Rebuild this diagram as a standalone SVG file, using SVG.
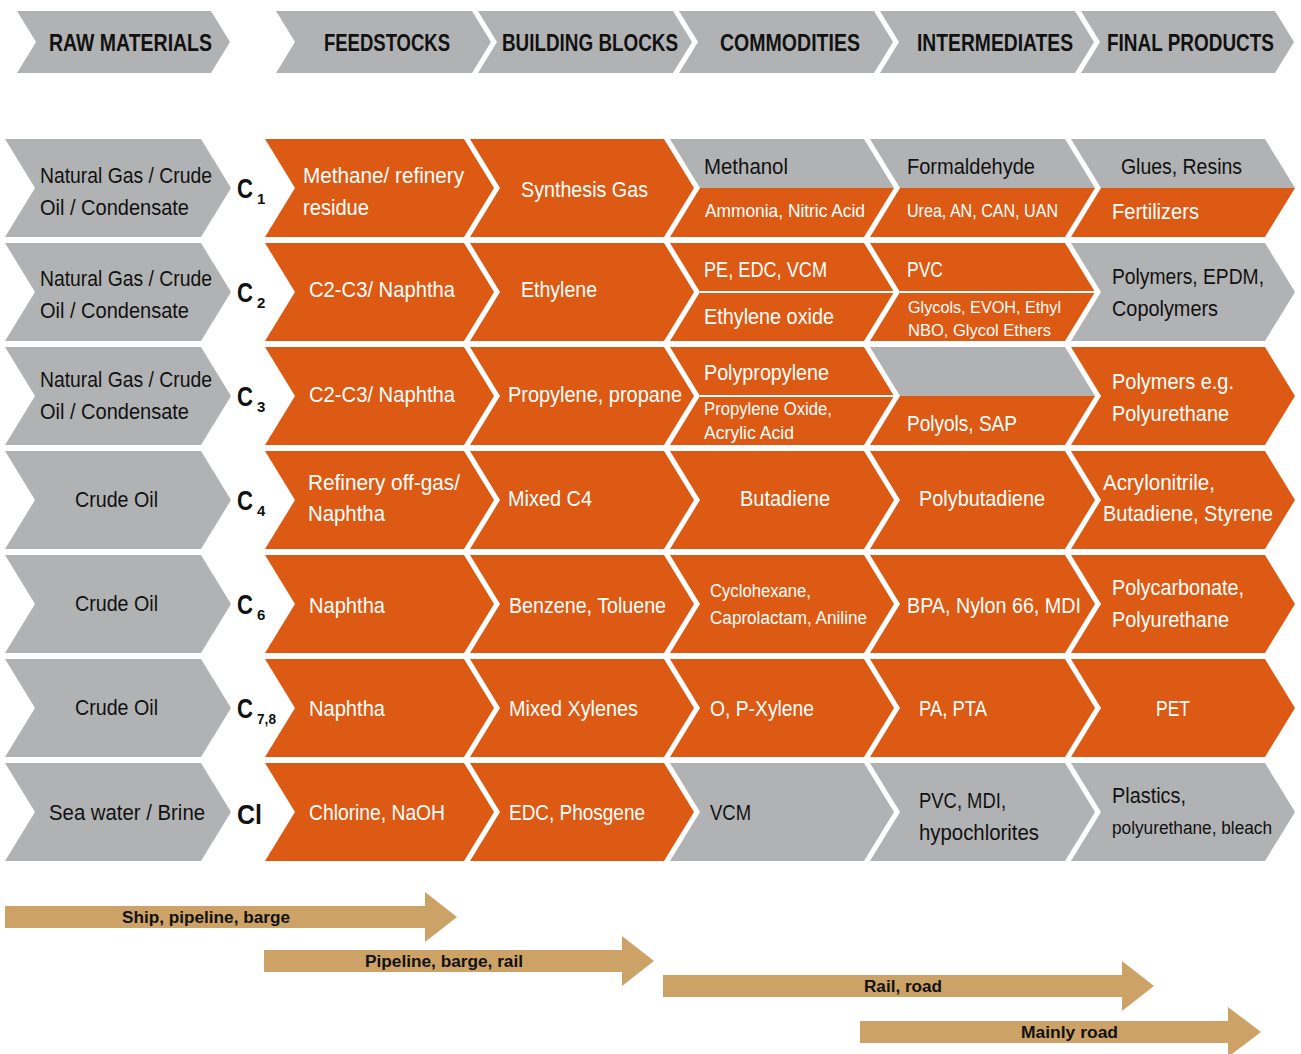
<svg xmlns="http://www.w3.org/2000/svg" width="1301" height="1054" viewBox="0 0 1301 1054">
<style>
.g{fill:#B1B2B4}.o{fill:#DC5A13}.t{fill:#CDA267}
text{font-family:'Liberation Sans',Arial,sans-serif;font-size:22px}
.dk{fill:#111}.wt{fill:#fff}.sm{font-size:18px}.xs{font-size:17px}
.hd{font-weight:bold;font-size:24px;fill:#111}
.cb{font-weight:bold;font-size:28px;fill:#111}.cs{font-weight:bold;font-size:15px;fill:#111}
.ar{font-weight:bold;font-size:16px;fill:#111}
.sep{stroke:#fff;stroke-width:2}
</style>
<rect width="1301" height="1054" fill="#fff"/>
<g id="header">
<g id="h-raw"><polygon class="g" points="17,11 211,11 230,42 211,73 17,73 36,42"/><text class="hd" x="49" y="51" textLength="163" lengthAdjust="spacingAndGlyphs">RAW MATERIALS</text></g>
<g id="h-feed"><polygon class="g" points="276,11 472,11 491,42 472,73 276,73 295,42"/><text class="hd" x="324" y="51" textLength="126" lengthAdjust="spacingAndGlyphs">FEEDSTOCKS</text></g>
<g id="h-bb"><polygon class="g" points="478,11 673,11 692,42 673,73 478,73 497,42"/><text class="hd" x="502" y="51" textLength="176" lengthAdjust="spacingAndGlyphs">BUILDING BLOCKS</text></g>
<g id="h-com"><polygon class="g" points="679,11 874,11 893,42 874,73 679,73 698,42"/><text class="hd" x="720" y="51" textLength="140" lengthAdjust="spacingAndGlyphs">COMMODITIES</text></g>
<g id="h-int"><polygon class="g" points="880,11 1075,11 1094,42 1075,73 880,73 899,42"/><text class="hd" x="917" y="51" textLength="156" lengthAdjust="spacingAndGlyphs">INTERMEDIATES</text></g>
<g id="h-fin"><polygon class="g" points="1081,11 1275,11 1294,42 1275,73 1081,73 1100,42"/><text class="hd" x="1107" y="51" textLength="167" lengthAdjust="spacingAndGlyphs">FINAL PRODUCTS</text></g>
</g>

<g id="row1">
<g id="r1-raw"><polygon class="g" points="5,139 201,139 231,188 201,237 5,237 35,188"/><text class="dk" x="40" y="183" textLength="172" lengthAdjust="spacingAndGlyphs">Natural Gas / Crude</text><text class="dk" x="40" y="215" textLength="149" lengthAdjust="spacingAndGlyphs">Oil / Condensate</text></g>
<g id="r1-c"><text class="cb" x="237" y="198" textLength="16" lengthAdjust="spacingAndGlyphs">C</text><text class="cs" x="257" y="204">1</text></g>
<g id="r1-fs"><polygon class="o" points="265,139 464,139 494,188 464,237 265,237 295,188"/><text class="wt" x="303" y="183" textLength="161" lengthAdjust="spacingAndGlyphs">Methane/ refinery</text><text class="wt" x="303" y="215" textLength="66" lengthAdjust="spacingAndGlyphs">residue</text></g>
<g id="r1-bb"><polygon class="o" points="470,139 664,139 694,188 664,237 470,237 500,188"/><text class="wt" x="521" y="197" textLength="127" lengthAdjust="spacingAndGlyphs">Synthesis Gas</text></g>
<g id="r1-com"><polygon class="g" points="670,139 864,139 894,188 700,188"/><polygon class="o" points="700,188 894,188 864,237 670,237"/><text class="dk" x="704" y="174" textLength="84" lengthAdjust="spacingAndGlyphs">Methanol</text><text class="wt sm" x="705" y="217" textLength="160" lengthAdjust="spacingAndGlyphs">Ammonia, Nitric Acid</text></g>
<g id="r1-int"><polygon class="g" points="870,139 1065,139 1095,188 900,188"/><polygon class="o" points="900,188 1095,188 1065,237 870,237"/><text class="dk" x="907" y="174" textLength="128" lengthAdjust="spacingAndGlyphs">Formaldehyde</text><text class="wt sm" x="907" y="217" textLength="151" lengthAdjust="spacingAndGlyphs">Urea, AN, CAN, UAN</text></g>
<g id="r1-fin"><polygon class="g" points="1071,139 1265,139 1295,188 1101,188"/><polygon class="o" points="1101,188 1295,188 1265,237 1071,237"/><text class="dk" x="1121" y="174" textLength="121" lengthAdjust="spacingAndGlyphs">Glues, Resins</text><text class="wt" x="1112" y="219" textLength="87" lengthAdjust="spacingAndGlyphs">Fertilizers</text></g>
</g>

<g id="row2">
<g id="r2-raw"><polygon class="g" points="5,243 201,243 231,292 201,341 5,341 35,292"/><text class="dk" x="40" y="286" textLength="172" lengthAdjust="spacingAndGlyphs">Natural Gas / Crude</text><text class="dk" x="40" y="318" textLength="149" lengthAdjust="spacingAndGlyphs">Oil / Condensate</text></g>
<g id="r2-c"><text class="cb" x="237" y="302" textLength="16" lengthAdjust="spacingAndGlyphs">C</text><text class="cs" x="257" y="308">2</text></g>
<g id="r2-fs"><polygon class="o" points="265,243 464,243 494,292 464,341 265,341 295,292"/><text class="wt" x="309" y="297" textLength="146" lengthAdjust="spacingAndGlyphs">C2-C3/ Naphtha</text></g>
<g id="r2-bb"><polygon class="o" points="470,243 664,243 694,292 664,341 470,341 500,292"/><text class="wt" x="521" y="297" textLength="76" lengthAdjust="spacingAndGlyphs">Ethylene</text></g>
<g id="r2-com"><polygon class="o" points="670,243 864,243 894,292 864,341 670,341 700,292"/><line class="sep" x1="700" y1="292" x2="894" y2="292"/><text class="wt" x="704" y="277" textLength="123" lengthAdjust="spacingAndGlyphs">PE, EDC, VCM</text><text class="wt" x="704" y="324" textLength="130" lengthAdjust="spacingAndGlyphs">Ethylene oxide</text></g>
<g id="r2-int"><polygon class="o" points="870,243 1065,243 1095,292 1065,341 870,341 900,292"/><line class="sep" x1="900" y1="292" x2="1095" y2="292"/><text class="wt" x="907" y="277" textLength="36" lengthAdjust="spacingAndGlyphs">PVC</text><text class="wt xs" x="908" y="313" textLength="153" lengthAdjust="spacingAndGlyphs">Glycols, EVOH, Ethyl</text><text class="wt xs" x="908" y="336" textLength="143" lengthAdjust="spacingAndGlyphs">NBO, Glycol Ethers</text></g>
<g id="r2-fin"><polygon class="g" points="1071,243 1265,243 1295,292 1265,341 1071,341 1101,292"/><text class="dk" x="1112" y="284" textLength="152" lengthAdjust="spacingAndGlyphs">Polymers, EPDM,</text><text class="dk" x="1112" y="316" textLength="106" lengthAdjust="spacingAndGlyphs">Copolymers</text></g>
</g>

<g id="row3">
<g id="r3-raw"><polygon class="g" points="5,347 201,347 231,396 201,445 5,445 35,396"/><text class="dk" x="40" y="387" textLength="172" lengthAdjust="spacingAndGlyphs">Natural Gas / Crude</text><text class="dk" x="40" y="419" textLength="149" lengthAdjust="spacingAndGlyphs">Oil / Condensate</text></g>
<g id="r3-c"><text class="cb" x="237" y="406" textLength="16" lengthAdjust="spacingAndGlyphs">C</text><text class="cs" x="257" y="412">3</text></g>
<g id="r3-fs"><polygon class="o" points="265,347 464,347 494,396 464,445 265,445 295,396"/><text class="wt" x="309" y="402" textLength="146" lengthAdjust="spacingAndGlyphs">C2-C3/ Naphtha</text></g>
<g id="r3-bb"><polygon class="o" points="470,347 664,347 694,396 664,445 470,445 500,396"/><text class="wt" x="508" y="402" textLength="174" lengthAdjust="spacingAndGlyphs">Propylene, propane</text></g>
<g id="r3-com"><polygon class="o" points="670,347 864,347 894,396 864,445 670,445 700,396"/><line class="sep" x1="700" y1="396" x2="894" y2="396"/><text class="wt" x="704" y="380" textLength="125" lengthAdjust="spacingAndGlyphs">Polypropylene</text><text class="wt sm" x="704" y="415" textLength="128" lengthAdjust="spacingAndGlyphs">Propylene Oxide,</text><text class="wt sm" x="704" y="439" textLength="90" lengthAdjust="spacingAndGlyphs">Acrylic Acid</text></g>
<g id="r3-int"><polygon class="g" points="870,347 1065,347 1095,396 900,396"/><polygon class="o" points="900,396 1095,396 1065,445 870,445"/><text class="wt" x="907" y="431" textLength="110" lengthAdjust="spacingAndGlyphs">Polyols, SAP</text></g>
<g id="r3-fin"><polygon class="o" points="1071,347 1265,347 1295,396 1265,445 1071,445 1101,396"/><text class="wt" x="1112" y="389" textLength="122" lengthAdjust="spacingAndGlyphs">Polymers e.g.</text><text class="wt" x="1112" y="421" textLength="117" lengthAdjust="spacingAndGlyphs">Polyurethane</text></g>
</g>

<g id="row4">
<g id="r4-raw"><polygon class="g" points="5,451 201,451 231,500 201,549 5,549 35,500"/><text class="dk" x="75" y="507" textLength="83" lengthAdjust="spacingAndGlyphs">Crude Oil</text></g>
<g id="r4-c"><text class="cb" x="237" y="510" textLength="16" lengthAdjust="spacingAndGlyphs">C</text><text class="cs" x="257" y="516">4</text></g>
<g id="r4-fs"><polygon class="o" points="265,451 464,451 494,500 464,549 265,549 295,500"/><text class="wt" x="308" y="490" textLength="152" lengthAdjust="spacingAndGlyphs">Refinery off-gas/</text><text class="wt" x="308" y="521" textLength="77" lengthAdjust="spacingAndGlyphs">Naphtha</text></g>
<g id="r4-bb"><polygon class="o" points="470,451 664,451 694,500 664,549 470,549 500,500"/><text class="wt" x="508" y="506" textLength="84" lengthAdjust="spacingAndGlyphs">Mixed C4</text></g>
<g id="r4-com"><polygon class="o" points="670,451 864,451 894,500 864,549 670,549 700,500"/><text class="wt" x="740" y="506" textLength="90" lengthAdjust="spacingAndGlyphs">Butadiene</text></g>
<g id="r4-int"><polygon class="o" points="870,451 1065,451 1095,500 1065,549 870,549 900,500"/><text class="wt" x="919" y="506" textLength="126" lengthAdjust="spacingAndGlyphs">Polybutadiene</text></g>
<g id="r4-fin"><polygon class="o" points="1071,451 1265,451 1295,500 1265,549 1071,549 1101,500"/><text class="wt" x="1103" y="490" textLength="112" lengthAdjust="spacingAndGlyphs">Acrylonitrile,</text><text class="wt" x="1103" y="521" textLength="170" lengthAdjust="spacingAndGlyphs">Butadiene, Styrene</text></g>
</g>

<g id="row5">
<g id="r5-raw"><polygon class="g" points="5,555 201,555 231,604 201,653 5,653 35,604"/><text class="dk" x="75" y="611" textLength="83" lengthAdjust="spacingAndGlyphs">Crude Oil</text></g>
<g id="r5-c"><text class="cb" x="237" y="614" textLength="16" lengthAdjust="spacingAndGlyphs">C</text><text class="cs" x="257" y="620">6</text></g>
<g id="r5-fs"><polygon class="o" points="265,555 464,555 494,604 464,653 265,653 295,604"/><text class="wt" x="309" y="613" textLength="76" lengthAdjust="spacingAndGlyphs">Naphtha</text></g>
<g id="r5-bb"><polygon class="o" points="470,555 664,555 694,604 664,653 470,653 500,604"/><text class="wt" x="509" y="613" textLength="157" lengthAdjust="spacingAndGlyphs">Benzene, Toluene</text></g>
<g id="r5-com"><polygon class="o" points="670,555 864,555 894,604 864,653 670,653 700,604"/><text class="wt sm" x="710" y="597" textLength="101" lengthAdjust="spacingAndGlyphs">Cyclohexane,</text><text class="wt sm" x="710" y="624" textLength="157" lengthAdjust="spacingAndGlyphs">Caprolactam, Aniline</text></g>
<g id="r5-int"><polygon class="o" points="870,555 1065,555 1095,604 1065,653 870,653 900,604"/><text class="wt" x="907" y="613" textLength="174" lengthAdjust="spacingAndGlyphs">BPA, Nylon 66, MDI</text></g>
<g id="r5-fin"><polygon class="o" points="1071,555 1265,555 1295,604 1265,653 1071,653 1101,604"/><text class="wt" x="1112" y="595" textLength="132" lengthAdjust="spacingAndGlyphs">Polycarbonate,</text><text class="wt" x="1112" y="627" textLength="117" lengthAdjust="spacingAndGlyphs">Polyurethane</text></g>
</g>

<g id="row6">
<g id="r6-raw"><polygon class="g" points="5,659 201,659 231,708 201,757 5,757 35,708"/><text class="dk" x="75" y="715" textLength="83" lengthAdjust="spacingAndGlyphs">Crude Oil</text></g>
<g id="r6-c"><text class="cb" x="237" y="718" textLength="16" lengthAdjust="spacingAndGlyphs">C</text><text class="cs" x="257" y="724" textLength="19" lengthAdjust="spacingAndGlyphs">7,8</text></g>
<g id="r6-fs"><polygon class="o" points="265,659 464,659 494,708 464,757 265,757 295,708"/><text class="wt" x="309" y="716" textLength="76" lengthAdjust="spacingAndGlyphs">Naphtha</text></g>
<g id="r6-bb"><polygon class="o" points="470,659 664,659 694,708 664,757 470,757 500,708"/><text class="wt" x="509" y="716" textLength="129" lengthAdjust="spacingAndGlyphs">Mixed Xylenes</text></g>
<g id="r6-com"><polygon class="o" points="670,659 864,659 894,708 864,757 670,757 700,708"/><text class="wt" x="710" y="716" textLength="104" lengthAdjust="spacingAndGlyphs">O, P-Xylene</text></g>
<g id="r6-int"><polygon class="o" points="870,659 1065,659 1095,708 1065,757 870,757 900,708"/><text class="wt" x="919" y="716" textLength="68" lengthAdjust="spacingAndGlyphs">PA, PTA</text></g>
<g id="r6-fin"><polygon class="o" points="1071,659 1265,659 1295,708 1265,757 1071,757 1101,708"/><text class="wt" x="1156" y="716" textLength="34" lengthAdjust="spacingAndGlyphs">PET</text></g>
</g>

<g id="row7">
<g id="r7-raw"><polygon class="g" points="5,763 201,763 231,812 201,861 5,861 35,812"/><text class="dk" x="49" y="820" textLength="156" lengthAdjust="spacingAndGlyphs">Sea water / Brine</text></g>
<g id="r7-c"><text class="cb" x="237" y="824" textLength="25" lengthAdjust="spacingAndGlyphs">Cl</text></g>
<g id="r7-fs"><polygon class="o" points="265,763 464,763 494,812 464,861 265,861 295,812"/><text class="wt" x="309" y="820" textLength="136" lengthAdjust="spacingAndGlyphs">Chlorine, NaOH</text></g>
<g id="r7-bb"><polygon class="o" points="470,763 664,763 694,812 664,861 470,861 500,812"/><text class="wt" x="509" y="820" textLength="136" lengthAdjust="spacingAndGlyphs">EDC, Phosgene</text></g>
<g id="r7-com"><polygon class="g" points="670,763 864,763 894,812 864,861 670,861 700,812"/><text class="dk" x="710" y="820" textLength="41" lengthAdjust="spacingAndGlyphs">VCM</text></g>
<g id="r7-int"><polygon class="g" points="870,763 1065,763 1095,812 1065,861 870,861 900,812"/><text class="dk" x="919" y="808" textLength="87" lengthAdjust="spacingAndGlyphs">PVC, MDI,</text><text class="dk" x="919" y="840" textLength="120" lengthAdjust="spacingAndGlyphs">hypochlorites</text></g>
<g id="r7-fin"><polygon class="g" points="1071,763 1265,763 1295,812 1265,861 1071,861 1101,812"/><text class="dk" x="1112" y="803" textLength="74" lengthAdjust="spacingAndGlyphs">Plastics,</text><text class="dk sm" x="1112" y="834" textLength="160" lengthAdjust="spacingAndGlyphs">polyurethane, bleach</text></g>
</g>

<g id="transport">
<g id="t-ship"><polygon class="t" points="5,906 425,906 425,892 457,917 425,942 425,928 5,928"/><text class="ar" x="122" y="923" textLength="168" lengthAdjust="spacingAndGlyphs">Ship, pipeline, barge</text></g>
<g id="t-pipe"><polygon class="t" points="264,950 622,950 622,936 654,961 622,986 622,972 264,972"/><text class="ar" x="365" y="967" textLength="158" lengthAdjust="spacingAndGlyphs">Pipeline, barge, rail</text></g>
<g id="t-rail"><polygon class="t" points="663,975 1122,975 1122,961 1154,986 1122,1011 1122,997 663,997"/><text class="ar" x="864" y="992" textLength="78" lengthAdjust="spacingAndGlyphs">Rail, road</text></g>
<g id="t-road"><polygon class="t" points="860,1021 1228,1021 1228,1007 1261,1032 1228,1057 1228,1043 860,1043"/><text class="ar" x="1021" y="1038" textLength="97" lengthAdjust="spacingAndGlyphs">Mainly road</text></g>
</g>
</svg>
